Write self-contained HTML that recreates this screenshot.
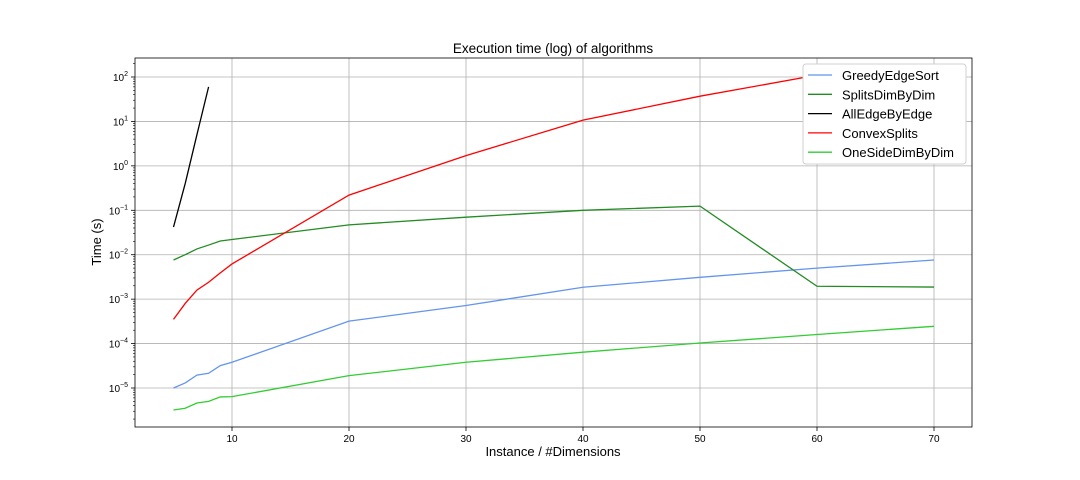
<!DOCTYPE html>
<html><head><meta charset="utf-8"><style>
body{margin:0;background:#fff;}
svg{display:block;font-family:"Liberation Sans","DejaVu Sans",sans-serif;}
</style></head><body>
<svg id="c" width="1080" height="480"></svg>
<script>
const xs=[5,6,7,8,9,10,20,30,40,50,60,70];
const greedy=[1e-5,1.3e-5,1.95e-5,2.15e-5,3.2e-5,3.8e-5,3.2e-4,7.2e-4,1.85e-3,3.1e-3,5e-3,7.6e-3];
const splits=[7.6e-3,0.01,0.0135,0.0165,0.0204,0.022,0.047,0.07,0.1,0.124,1.95e-3,1.87e-3];
const allEdgeX=[5,6,7,8];
const allEdge=[0.042,0.4,5,60];
const convex=[3.5e-4,8e-4,1.6e-3,2.4e-3,3.9e-3,6.2e-3,0.22,1.7,10.7,37,110,160];
const oneSide=[3.2e-6,3.5e-6,4.6e-6,5e-6,6.3e-6,6.4e-6,1.9e-5,3.8e-5,6.4e-5,1.03e-4,1.6e-4,2.45e-4];
const xTicks=[10,20,30,40,50,60,70];
const yExps=[-5,-4,-3,-2,-1,0,1,2];
const NS="http://www.w3.org/2000/svg";
const svg=document.getElementById('c');
const L=135,R=972,T=58,B=427;
function X(v){return 115+(v)*11.7;}
function Y(v){return 77+(2-Math.log10(v))*44.43;}
function mk(t,a,p){const e=document.createElementNS(NS,t);for(const k in a)e.setAttribute(k,a[k]);(p||svg).appendChild(e);return e;}
xTicks.forEach(t=>{const g=mk('line',{x1:X(t),x2:X(t),y1:T,y2:B,stroke:'#b0b0b0','stroke-width':0.8});


mk('line',{x1:X(t),x2:X(t),y1:B,y2:B+4,stroke:'#000','stroke-width':0.8});
const tx=mk('text',{x:X(t),y:B+15,'font-size':10,'text-anchor':'middle'});tx.textContent=t;

});
yExps.forEach(e=>{const v=Math.pow(10,e);const g=mk('line',{x1:L,x2:R,y1:Y(v),y2:Y(v),stroke:'#b0b0b0','stroke-width':0.8});


mk('line',{x1:L-4,x2:L,y1:Y(v),y2:Y(v),stroke:'#000','stroke-width':0.8});
const tx=mk('text',{x:L-7,y:Y(v)+4,'font-size':10,'text-anchor':'end'});
tx.innerHTML='10<tspan dy="-5" font-size="7">'+(e<0?'\u2212'+(-e):e)+'</tspan>';

});
for(let e=-6;e<=2;e++)for(let m=2;m<10;m++){const v=m*Math.pow(10,e);const y=Y(v);if(y>T&&y<B)mk('line',{x1:L-2,x2:L,y1:y,y2:y,stroke:'#000','stroke-width':0.6});}
function series(xa,ya,col,name){const p=mk('polyline',{points:xa.map((x,i)=>X(x)+','+Y(ya[i])).join(' '),fill:'none',stroke:col,'stroke-width':1.3});

}
series(xs,greedy,'#6495ed','greedy-edge-sort-line');
series(xs,splits,'#228b22','splits-dim-by-dim-line');
series(allEdgeX,allEdge,'#000','all-edge-by-edge-line');
series(xs,convex,'#ff0000','convex-splits-line');
series(xs,oneSide,'#32cd32','one-side-dim-by-dim-line');
const fr=mk('rect',{x:L,y:T,width:R-L,height:B-T,fill:'none',stroke:'#000','stroke-width':0.8});


const lg=mk('g',{});


mk('rect',{x:803,y:64,width:163,height:100,rx:3,fill:'#fff',stroke:'#d0d0d0'},lg);
const names=['GreedyEdgeSort','SplitsDimByDim','AllEdgeByEdge','ConvexSplits','OneSideDimByDim'];
const cols=['#6495ed','#228b22','#000','#ff0000','#32cd32'];
names.forEach((n,i)=>{const y=75+i*19.3;
mk('line',{x1:808,x2:832,y1:y,y2:y,stroke:cols[i],'stroke-width':1.3},lg);
const t=mk('text',{x:842,y:y+5,'font-size':13},lg);t.textContent=n;

});
const title=mk('text',{x:553,y:53,'font-size':13.5,'text-anchor':'middle'});title.textContent='Execution time (log) of algorithms';


const xl=mk('text',{x:553,y:456,'font-size':13,'text-anchor':'middle'});xl.textContent='Instance / #Dimensions';


const yl=mk('text',{x:0,y:0,'font-size':13,'text-anchor':'middle',transform:'translate(101,242) rotate(-90)'});yl.textContent='Time (s)';


</script>
</body></html>
